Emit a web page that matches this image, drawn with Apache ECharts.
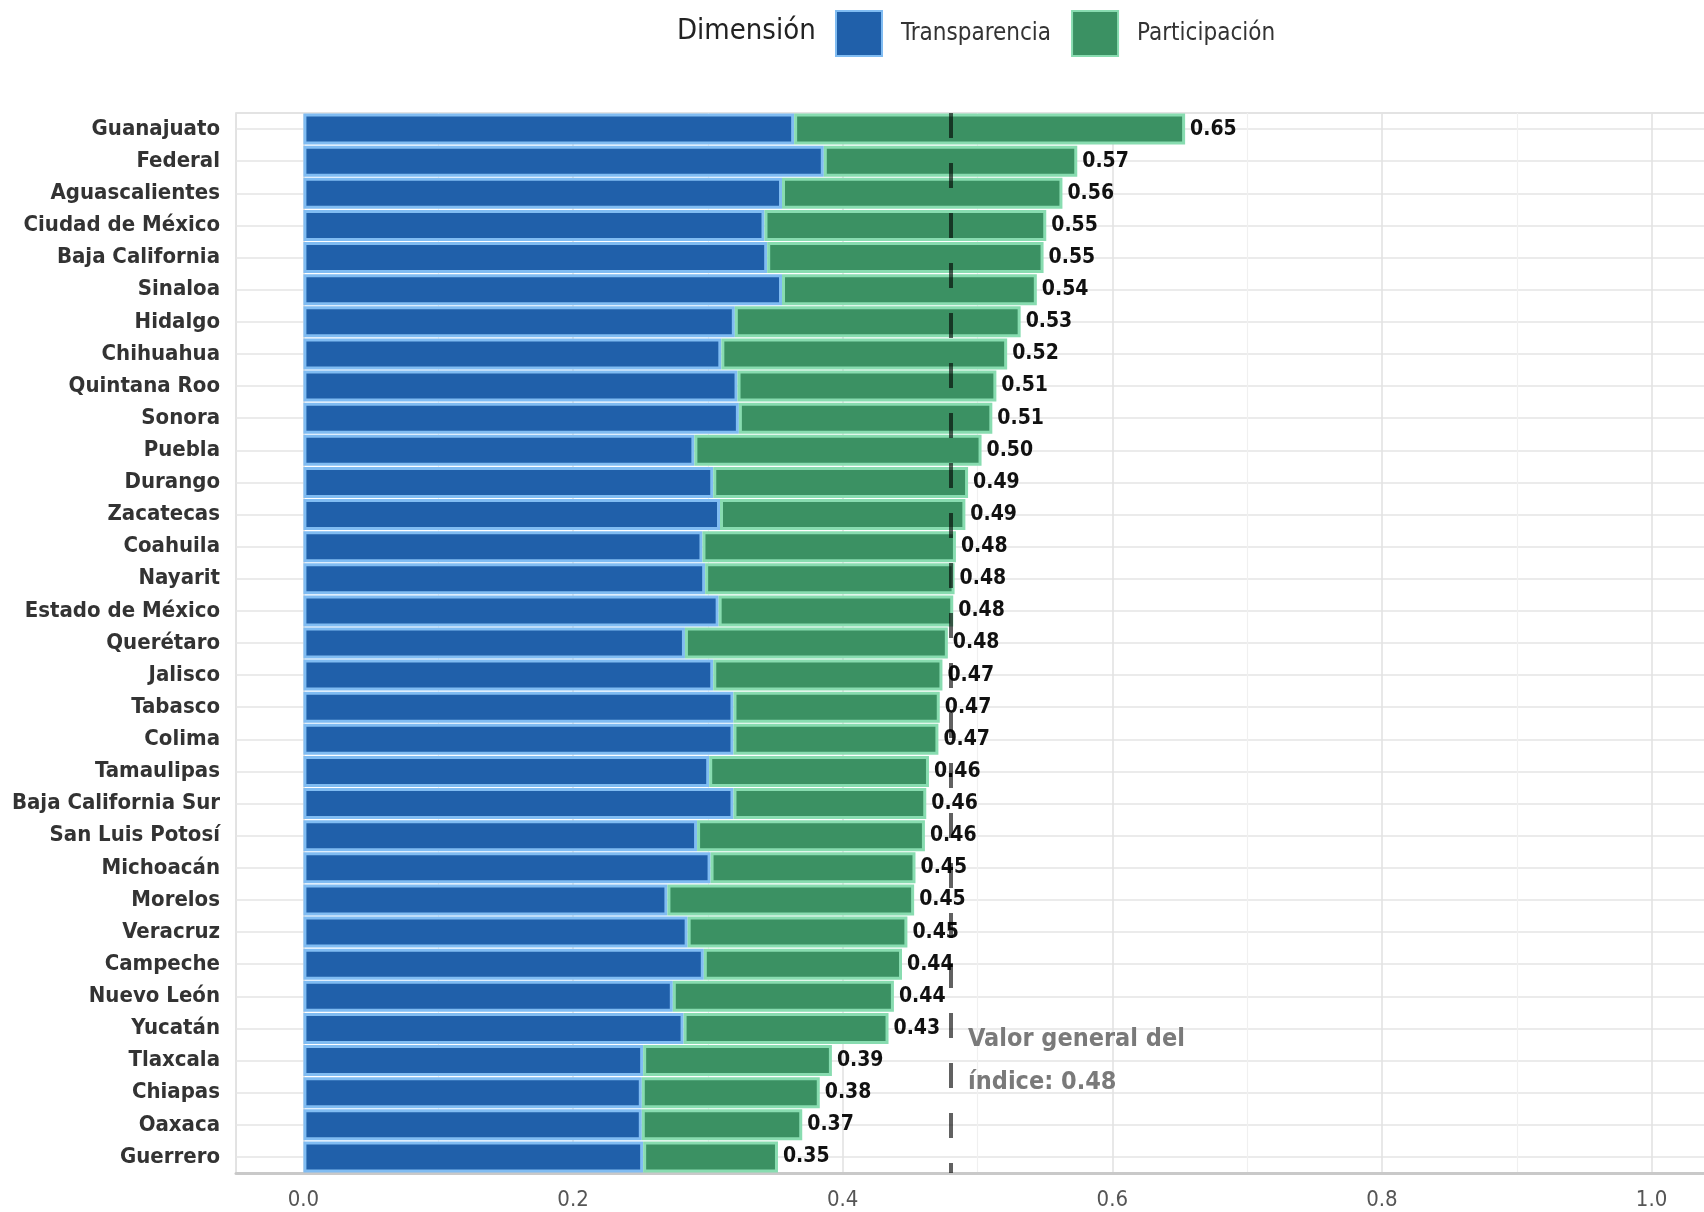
<!DOCTYPE html>
<html>
<head>
<meta charset="utf-8">
<script src="https://cdn.jsdelivr.net/npm/echarts@6/dist/echarts.min.js"></script>
<style>
html,body{margin:0;padding:0;background:#fff;}
#chart{width:1704px;height:1212px;}
</style>
</head>
<body>
<div id="chart"></div>
<script>
const estados = ["Guanajuato","Federal","Aguascalientes","Ciudad de México","Baja California","Sinaloa","Hidalgo","Chihuahua","Quintana Roo","Sonora","Puebla","Durango","Zacatecas","Coahuila","Nayarit","Estado de México","Querétaro","Jalisco","Tabasco","Colima","Tamaulipas","Baja California Sur","San Luis Potosí","Michoacán","Morelos","Veracruz","Campeche","Nuevo León","Yucatán","Tlaxcala","Chiapas","Oaxaca","Guerrero"];
const transparencia = [0.364,0.386,0.355,0.342,0.344,0.355,0.320,0.310,0.322,0.323,0.290,0.304,0.309,0.296,0.298,0.308,0.283,0.304,0.319,0.319,0.301,0.319,0.292,0.302,0.270,0.285,0.297,0.274,0.282,0.252,0.251,0.251,0.252];
const participacion = [0.290,0.188,0.208,0.209,0.205,0.189,0.212,0.212,0.192,0.188,0.213,0.189,0.182,0.188,0.185,0.174,0.195,0.170,0.153,0.152,0.163,0.143,0.169,0.152,0.183,0.163,0.147,0.164,0.152,0.140,0.132,0.119,0.100];
const indiceGeneral = 0.484;
const xTicks = [0.0,0.2,0.4,0.6,0.8,1.0];

const FONT = '"DejaVu Sans Condensed","Liberation Sans Narrow","Roboto",sans-serif';
const totales = transparencia.map((t,i)=>t+participacion[i]);

const chart = echarts.init(document.getElementById('chart'), null, {renderer:'canvas'});
chart.setOption({
  animation:false,
  backgroundColor:'#ffffff',
  textStyle:{fontFamily:FONT},
  graphic:[{
    type:'text', left:677, top:17,
    style:{text:'Dimensión', fontSize:29, fontFamily:FONT, fill:'#222'}
  }],
  legend:{
    left:830, top:5,
    itemWidth:46, itemHeight:45, itemGap:20,
    icon:'rect',
    textStyle:{fontSize:24, color:'#333', fontFamily:FONT, padding:[0,0,0,14]},
    data:['Transparencia','Participación']
  },
  grid:{
    left:236, top:113, bottom:39, right:-15,
    outerBoundsMode:'none',
    show:true, borderColor:'#dadada', borderWidth:1.5, containLabel:false
  },
  xAxis:{
    type:'value', min:-0.05, max:1.05, splitNumber:5,
    axisLine:{show:true, onZero:false, lineStyle:{color:'#c9c9c9', width:3}},
    axisTick:{show:false},
    axisLabel:{
      margin:16, fontSize:22, color:'#555', fontFamily:FONT,
      formatter:function(v){
        const hit = xTicks.find(t=>Math.abs(t-v)<1e-9);
        return hit===undefined ? '' : hit.toFixed(1);
      }
    },
    splitLine:{show:true, lineStyle:{color:'#e3e3e3', width:1.6}},
    minorTick:{show:false, splitNumber:2},
    minorSplitLine:{show:true, lineStyle:{color:'#f0f0f0', width:1.2}}
  },
  yAxis:{
    type:'category', inverse:true, data:estados,
    axisLine:{show:false}, axisTick:{show:false, alignWithLabel:true},
    axisLabel:{margin:16, fontSize:22, fontWeight:'bold', color:'#333', fontFamily:FONT},
    splitLine:{show:true, alignWithLabel:true, lineStyle:{color:'#ebebeb', width:2}}
  },
  series:[
    {
      name:'Transparencia', type:'bar', stack:'total',
      barWidth:31,
      data:transparencia,
      itemStyle:{color:'#2060aa', borderColor:'#80bcf2', borderWidth:3},
      z:3
    },
    {
      name:'Participación', type:'bar', stack:'total',
      barWidth:31,
      data:participacion,
      itemStyle:{color:'#3b9163', borderColor:'#88dcb0', borderWidth:3},
      label:{
        show:true, position:'right', distance:5,
        fontSize:21, fontWeight:'bold', color:'#111', fontFamily:FONT,
        formatter:function(p){return totales[p.dataIndex].toFixed(2);}
      },
      markLine:{
        silent:true, symbol:'none', animation:false,
        lineStyle:{color:'rgba(0,0,0,0.62)', width:4, type:[25,25]},
        label:{show:false},
        data:[{xAxis:indiceGeneral}]
      },
      markPoint:{
        silent:true, symbol:'circle', symbolSize:0,
        label:{
          show:true, position:'right', distance:0, align:'left', verticalAlign:'middle',
          fontSize:25, fontWeight:'bold', color:'#7a7a7a', lineHeight:43, fontFamily:FONT,
          formatter:'Valor general del\níndice: ' + indiceGeneral.toFixed(2)
        },
        data:[{coord:[indiceGeneral+0.009, 'Tlaxcala'], value:indiceGeneral}]
      },
      z:3
    }
  ]
});
</script>
</body>
</html>
